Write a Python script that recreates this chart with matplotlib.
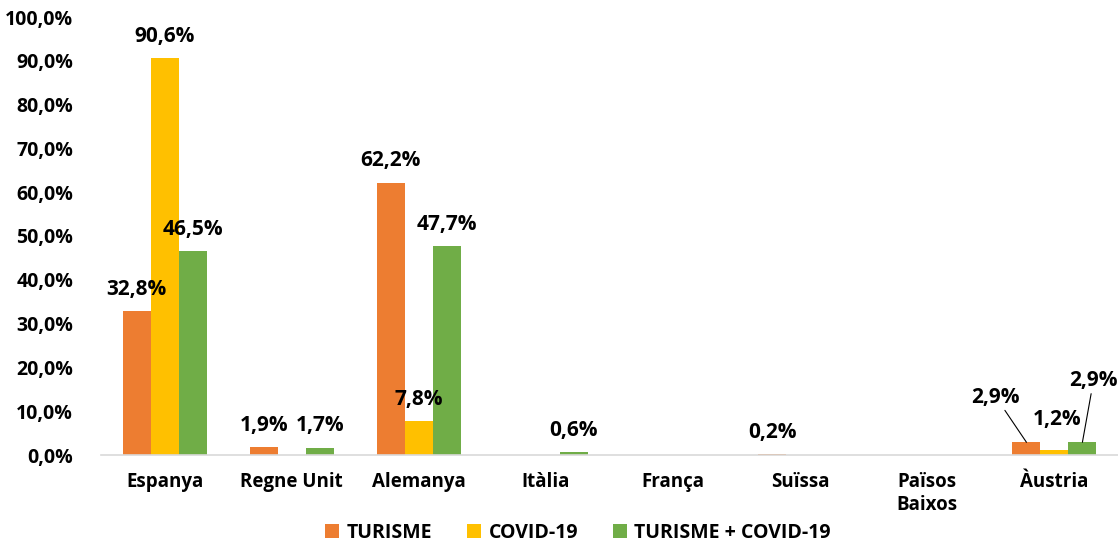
import matplotlib
matplotlib.use("Agg")
import matplotlib.pyplot as plt
import numpy as np

categories = ["Espanya", "Regne Unit", "Alemanya", "Itàlia", "França", "Suïssa", "Països\nBaixos", "Àustria"]
series_names = ["TURISME", "COVID-19", "TURISME + COVID-19"]
turisme = [32.8, 1.9, 62.2, 0.0, 0.0, 0.2, 0.0, 2.9]
covid = [90.6, 0.0, 7.8, 0.0, 0.0, 0.0, 0.0, 1.2]
turisme_covid = [46.5, 1.7, 47.7, 0.6, 0.0, 0.0, 0.0, 2.9]
y_ticks = [0, 10, 20, 30, 40, 50, 60, 70, 80, 90, 100]

colors = ["#ED7D31", "#FFC000", "#70AD47"]

plt.rcParams['font.family'] = ['Open Sans', 'DejaVu Sans']

fig = plt.figure(figsize=(11.18, 5.47), dpi=100)
ax = fig.add_axes([101/1118, 92/547, 1 - 101/1118, (455-17)/547])

x = np.arange(len(categories))
w = 0.22
all_series = [turisme, covid, turisme_covid]
for i, (vals, col, name) in enumerate(zip(all_series, colors, series_names)):
    ax.bar(x + (i - 1) * w, vals, width=w, color=col, label=name)

def fmt(v):
    return f"{v:.1f}%".replace(".", ",")

# label offsets (points) for special cases
special = {
    (7, 0): (-22, 25),
    (7, 1): (2, 14),
    (7, 2): (8, 37),
}
for si, vals in enumerate(all_series):
    for ci, v in enumerate(vals):
        if v <= 0:
            continue
        bx = x[ci] + (si - 1) * w
        if (ci, si) in special:
            dx, dy = special[(ci, si)]
            ax.annotate(fmt(v), xy=(bx, v), xytext=(dx, dy), textcoords="offset points",
                        ha="center", va="bottom", fontsize=15, fontweight="bold",
                        arrowprops=dict(arrowstyle="-", color="black", lw=0.8,
                                        shrinkA=0, shrinkB=0) if si != 1 else None)
        else:
            ax.annotate(fmt(v), xy=(bx, v), xytext=(0, 8), textcoords="offset points",
                        ha="center", va="bottom", fontsize=15, fontweight="bold")

ax.set_xlim(-0.5, len(categories) - 0.5)
ax.set_ylim(0, 100)
ax.set_yticks(y_ticks)
ax.set_yticklabels([f"{t:.1f}%".replace(".", ",") for t in y_ticks], fontsize=14, fontweight="bold")
ax.set_xticks(x)
ax.set_xticklabels(categories, fontsize=13.5, fontweight="bold")
ax.tick_params(axis="both", length=0)
ax.tick_params(axis="y", pad=20)
ax.tick_params(axis="x", pad=12)

for s in ["top", "right", "left"]:
    ax.spines[s].set_visible(False)
ax.spines["bottom"].set_color("#D9D9D9")
ax.spines["bottom"].set_linewidth(1.2)

fig.legend(loc="center", bbox_to_anchor=(578/1118, 1 - 533/547), ncol=3, frameon=False,
           prop={"size": 14, "weight": "bold"}, handlelength=0.7, handleheight=0.7,
           handletextpad=0.4, columnspacing=1.8)

fig.savefig("out.png", dpi=100)
